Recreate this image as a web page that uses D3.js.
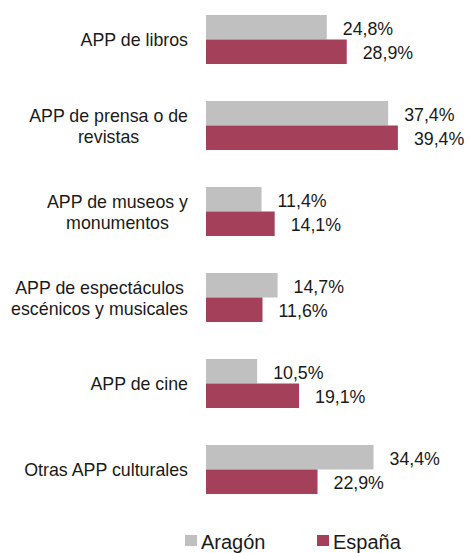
<!DOCTYPE html>
<html>
<head>
<meta charset="utf-8">
<script src="https://cdn.jsdelivr.net/npm/d3@7"></script>
<style>
  body { margin: 0; background: #fff; }
  svg { display: block; }
</style>
</head>
<body>
<script>
// categories (lines of each label) and series values
const categories = [
  ["APP de libros"],
  ["APP de prensa o de", "revistas"],
  ["APP de museos y", "monumentos"],
  ["APP de espectáculos", "escénicos y musicales"],
  ["APP de cine"],
  ["Otras APP culturales"]
];
const seriesNames = ["Aragón", "España"];
const aragon = [24.8, 37.4, 11.4, 14.7, 10.5, 34.4];
const espana = [28.9, 39.4, 14.1, 11.6, 19.1, 22.9];
const colours = ["#c0c0c0", "#a5405a"];

const width = 469, height = 553;
const font = "'Liberation Sans', Arial, sans-serif";

const svg = d3.select("body").append("svg")
  .attr("width", width)
  .attr("height", height);

const keys = categories.map(d => d.join(" "));
const rows = keys.map((k, i) => ({ key: k, lines: categories[i], values: [aragon[i], espana[i]] }));

// scales
const x = d3.scaleLinear().domain([0, 50]).range([206, 206 + 4.87 * 50]);
const y = d3.scaleBand().domain(keys).range([-3.5, 512.5]).paddingInner(0.43).paddingOuter(0.215);
const ySub = d3.scaleBand().domain(seriesNames).range([0, y.bandwidth()]);

const groups = svg.selectAll("g.cat")
  .data(rows)
  .enter()
  .append("g")
  .attr("class", "cat")
  .attr("transform", d => `translate(0,${y(d.key)})`);

// bars
groups.selectAll("rect")
  .data(d => d.values.map((v, i) => ({ name: seriesNames[i], value: v, i })))
  .enter()
  .append("rect")
  .attr("x", x(0))
  .attr("y", d => ySub(d.name))
  .attr("width", d => x(d.value) - x(0))
  .attr("height", ySub.bandwidth())
  .attr("fill", d => colours[d.i]);

// value labels
groups.selectAll("text.val")
  .data(d => d.values.map((v, i) => ({ name: seriesNames[i], value: v })))
  .enter()
  .append("text")
  .attr("class", "val")
  .attr("x", d => x(d.value) + 16)
  .attr("y", d => ySub(d.name) + ySub.bandwidth() / 2 + 7.5)
  .style("font-family", font)
  .style("font-size", "17.8px")
  .style("fill", "#1a1a1a")
  .text(d => d.value.toFixed(1).replace(".", ",") + "%");

// category labels: block right-aligned, lines centred within block
const labelRight = 188;
const lineH = 21;
groups.each(function(d) {
  const g = d3.select(this);
  const t = g.append("text")
    .style("font-family", font)
    .style("font-size", "17.8px")
    .style("fill", "#1a1a1a")
    .attr("text-anchor", "middle");
  const n = d.lines.length;
  const spans = t.selectAll("tspan")
    .data(d.lines)
    .enter()
    .append("tspan")
    .attr("y", (l, i) => y.bandwidth() / 2 - (n - 1) * lineH / 2 + i * lineH + 7)
    .text(l => l);
  let maxW = 0;
  spans.each(function() { maxW = Math.max(maxW, this.getComputedTextLength()); });
  spans.attr("x", labelRight - maxW / 2);
});

// legend
const legendX = [185, 317];
const legend = svg.selectAll("g.legend")
  .data(seriesNames)
  .enter()
  .append("g")
  .attr("class", "legend")
  .attr("transform", (d, i) => `translate(${legendX[i]},535)`);

legend.append("rect")
  .attr("width", 12)
  .attr("height", 11)
  .attr("fill", (d, i) => colours[i]);

legend.append("text")
  .attr("x", 16)
  .attr("y", 13.5)
  .style("font-family", font)
  .style("font-size", "20px")
  .style("fill", "#1a1a1a")
  .text(d => d);
</script>
</body>
</html>
